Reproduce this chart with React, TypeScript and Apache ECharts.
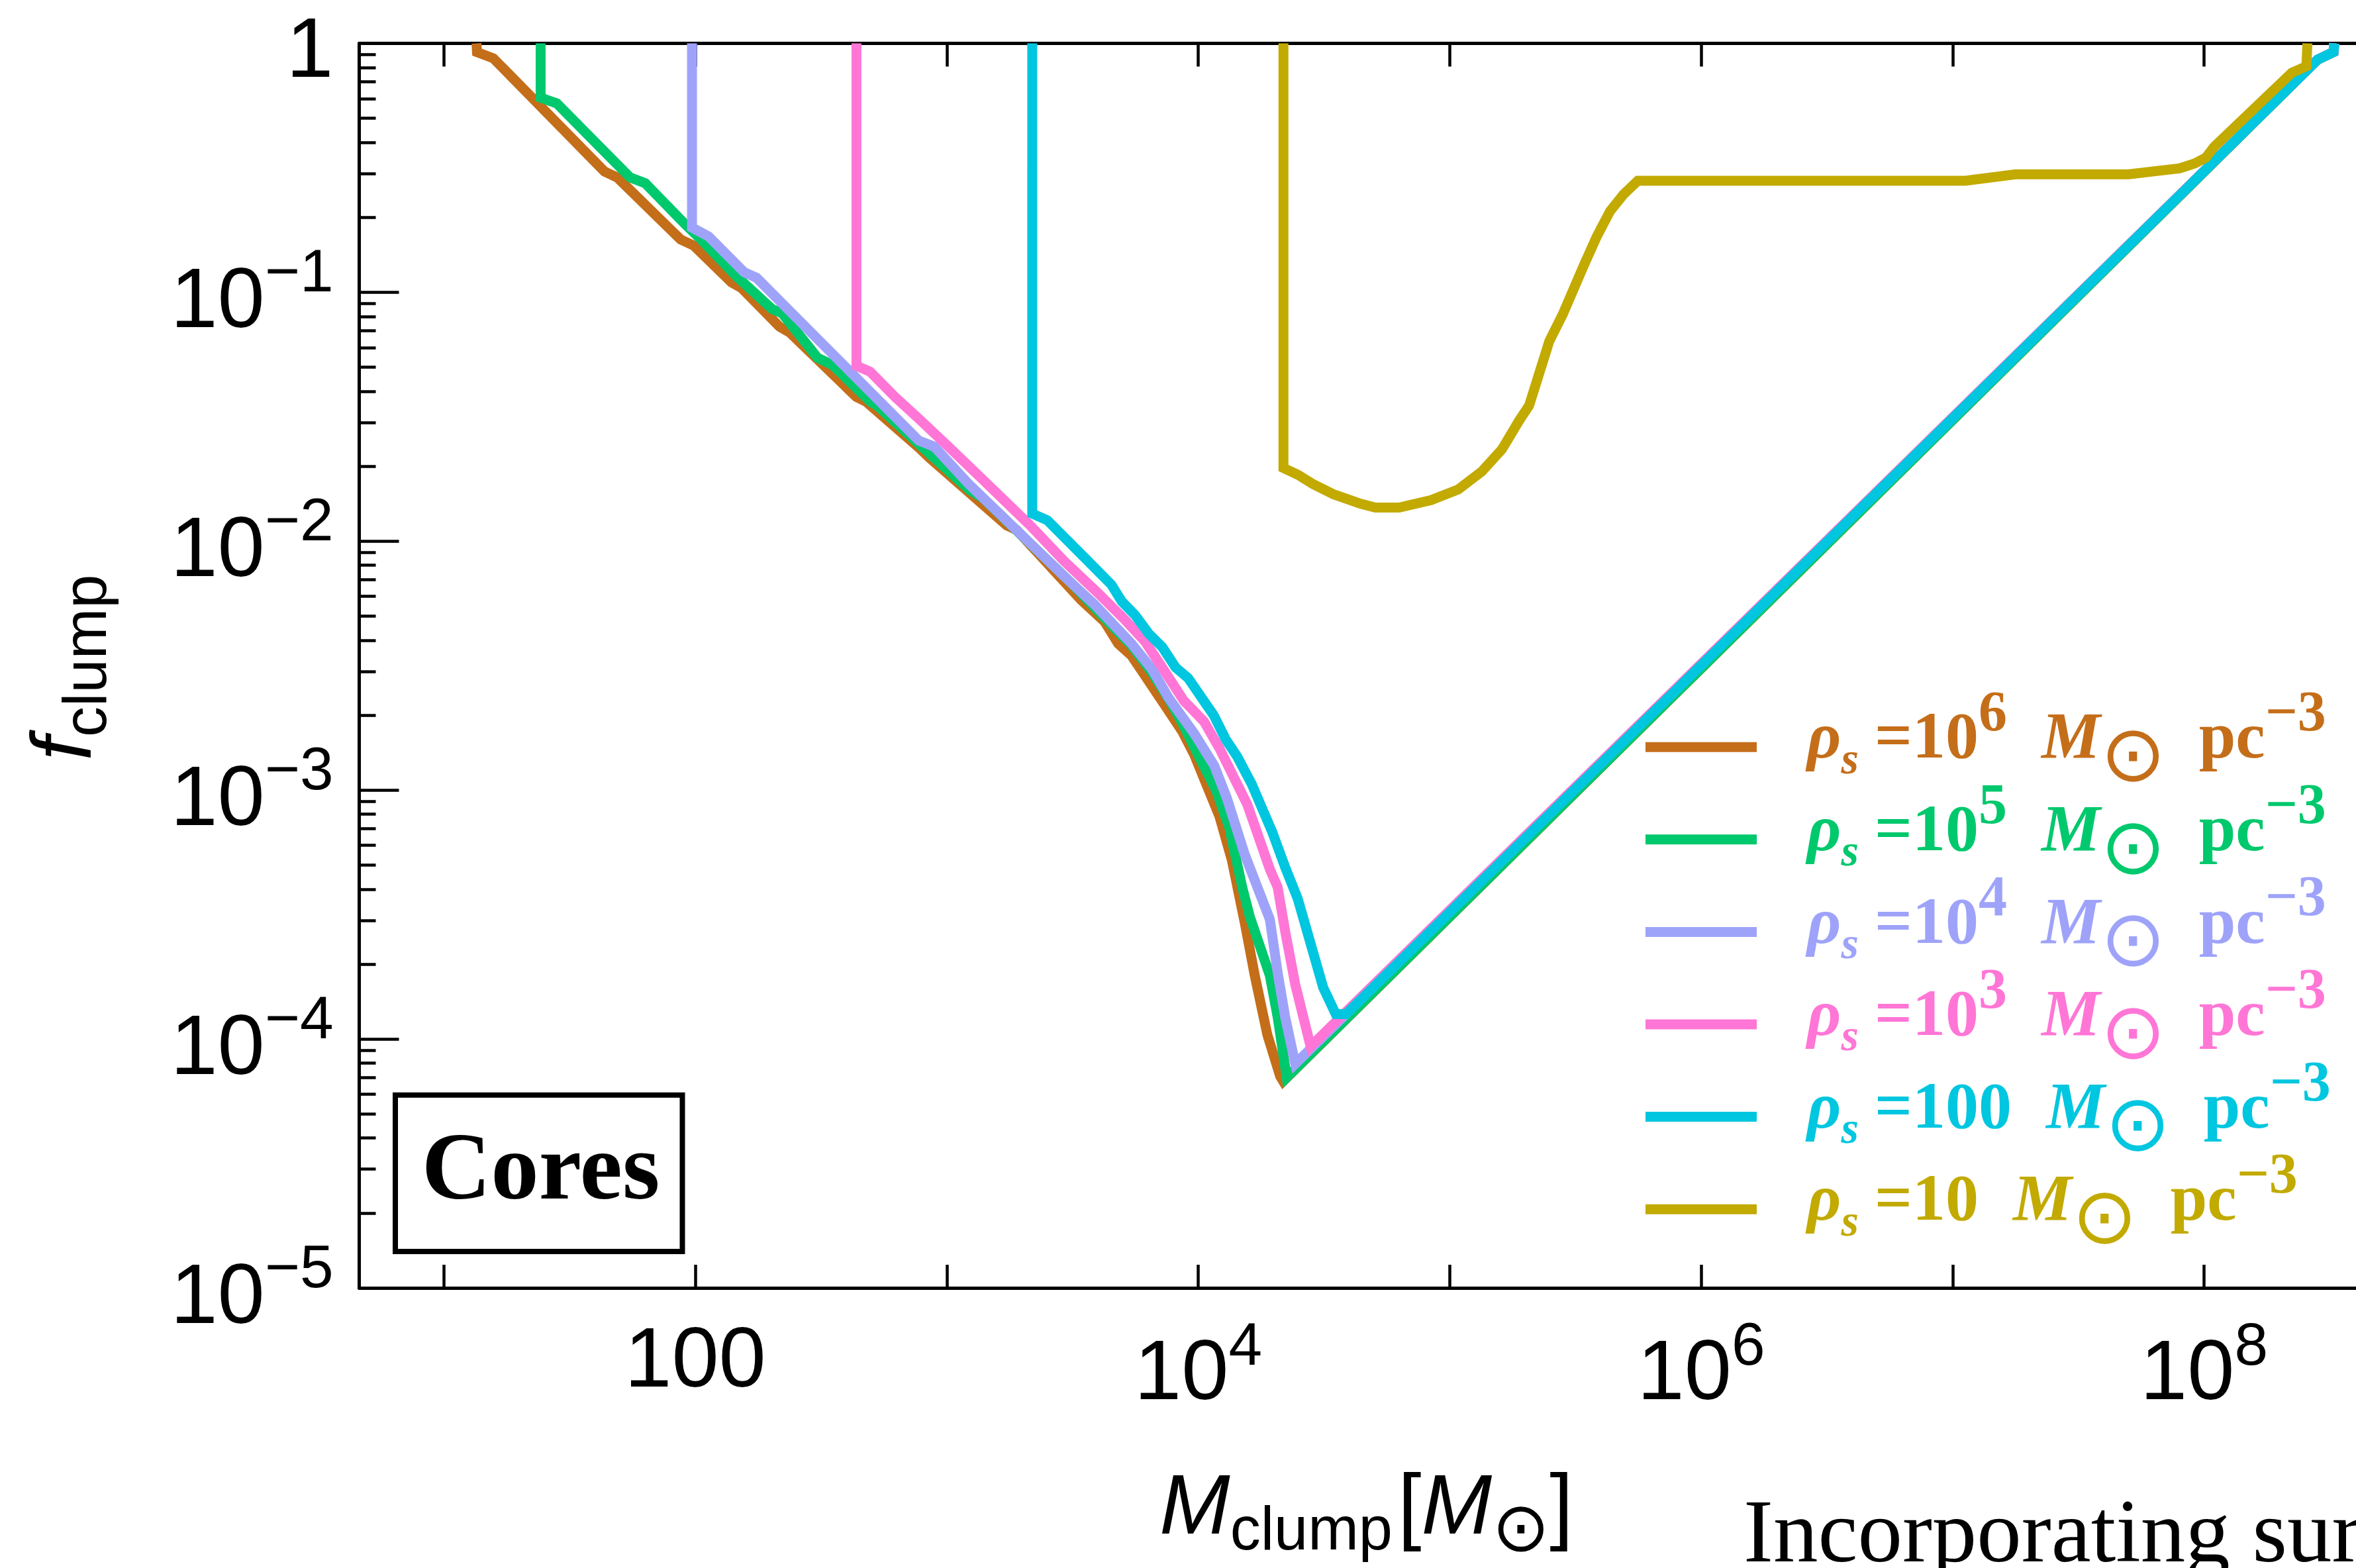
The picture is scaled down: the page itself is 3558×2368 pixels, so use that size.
import React, { useEffect, useRef } from 'react';
import * as echarts from 'echarts';

const WIDTH = 3558;
const HEIGHT = 2368;

// Axis ranges, in log10 units: x = log10(M_clump / M_sun), y = log10(f_clump)
const LOG_M_MIN = 0.6636;
const LOG_M_MAX = 8.6043;
const LOG_F_MIN = -5;
const LOG_F_MAX = 0;

const xTickExponents = [1, 2, 3, 4, 5, 6, 7, 8];
const xLabelExponents = [2, 4, 6, 8];
const yTickExponents = [-5, -4, -3, -2, -1, 0];
const yMinorMultipliers = [2, 3, 4, 5, 6, 7, 8, 9];

// Each curve: [log10 M_clump, log10 f_clump]
const rhoS1e6: [number, number][] = [
  [1.130, 0], [1.132, -0.035], [1.197, -0.060], [1.639, -0.515], [1.690, -0.539],
  [1.942, -0.788], [1.993, -0.812], [2.144, -0.960], [2.184, -0.983], [2.335, -1.138],
  [2.376, -1.162], [2.640, -1.420], [2.680, -1.440], [2.890, -1.625], [2.930, -1.664],
  [3.239, -1.937], [3.278, -1.955], [3.534, -2.236], [3.628, -2.324], [3.682, -2.412],
  [3.735, -2.460], [3.870, -2.663], [3.937, -2.765], [3.983, -2.855], [4.084, -3.104],
  [4.134, -3.282], [4.185, -3.532], [4.225, -3.745], [4.275, -3.983], [4.326, -4.150],
  [4.338, -4.170], [8.452, -0.065], [8.515, -0.035], [8.518, 0],
];

const rhoS1e5: [number, number][] = [
  [1.385, 0], [1.385, -0.218], [1.449, -0.241], [1.741, -0.539], [1.801, -0.562],
  [1.962, -0.729], [2.023, -0.788], [2.164, -0.936], [2.305, -1.067], [2.345, -1.084],
  [2.486, -1.263], [2.547, -1.293], [2.698, -1.441], [2.722, -1.454], [2.890, -1.611],
  [3.091, -1.794], [3.145, -1.828], [3.494, -2.167], [3.642, -2.324], [3.735, -2.419],
  [3.816, -2.527], [3.884, -2.636], [3.937, -2.731], [4.004, -2.867], [4.072, -3.003],
  [4.124, -3.152], [4.175, -3.390], [4.205, -3.508], [4.285, -3.745], [4.316, -3.912],
  [4.346, -4.114], [4.352, -4.155], [8.452, -0.065], [8.515, -0.035], [8.518, 0],
];

const rhoS1e4: [number, number][] = [
  [1.987, 0], [1.987, -0.740], [2.053, -0.776], [2.194, -0.919], [2.244, -0.942],
  [2.889, -1.596], [2.950, -1.620], [3.090, -1.773], [3.279, -1.957], [3.467, -2.141],
  [3.588, -2.255], [3.735, -2.412], [3.816, -2.514], [3.882, -2.629], [3.983, -2.771],
  [4.064, -2.902], [4.114, -3.032], [4.185, -3.258], [4.285, -3.520], [4.316, -3.734],
  [4.346, -3.912], [4.386, -4.100], [8.452, -0.065], [8.515, -0.035], [8.518, 0],
];

const rhoS1e3: [number, number][] = [
  [2.641, 0], [2.641, -1.295], [2.695, -1.319], [2.795, -1.421], [2.890, -1.509],
  [2.997, -1.611], [3.145, -1.754], [3.332, -1.937], [3.467, -2.080], [3.601, -2.208],
  [3.709, -2.316], [3.790, -2.405], [3.852, -2.500], [3.943, -2.641], [4.023, -2.724],
  [4.084, -2.831], [4.195, -3.057], [4.285, -3.318], [4.316, -3.390], [4.346, -3.568],
  [4.386, -3.781], [4.447, -4.030], [8.452, -0.065], [8.515, -0.035], [8.518, 0],
];

const rhoS100: [number, number][] = [
  [3.340, 0], [3.340, -1.889], [3.400, -1.916], [3.548, -2.066], [3.655, -2.175],
  [3.696, -2.242], [3.749, -2.297], [3.803, -2.371], [3.857, -2.425], [3.910, -2.507],
  [3.960, -2.550], [4.062, -2.700], [4.110, -2.797], [4.156, -2.867], [4.213, -2.976],
  [4.295, -3.170], [4.346, -3.310], [4.396, -3.437], [4.497, -3.793], [4.547, -3.900],
  [4.588, -3.900], [8.452, -0.065], [8.515, -0.035], [8.518, 0],
];

const rhoS10: [number, number][] = [
  [4.339, 0], [4.339, -1.706], [4.396, -1.733], [4.456, -1.770], [4.537, -1.811],
  [4.644, -1.849], [4.704, -1.865], [4.799, -1.865], [4.926, -1.835], [5.034, -1.792],
  [5.128, -1.720], [5.208, -1.631], [5.276, -1.516], [5.316, -1.455], [5.396, -1.197],
  [5.450, -1.088], [5.531, -0.898], [5.585, -0.776], [5.638, -0.674], [5.692, -0.606],
  [5.748, -0.552], [7.051, -0.552], [7.250, -0.526], [7.700, -0.526], [7.904, -0.502],
  [7.964, -0.482], [8.007, -0.459], [8.040, -0.416], [8.349, -0.118], [8.407, -0.092],
  [8.411, 0],
];

const curveData = [rhoS1e6, rhoS1e5, rhoS1e4, rhoS1e3, rhoS100, rhoS10];
const curveNames = ['rho1e6', 'rho1e5', 'rho1e4', 'rho1e3', 'rho100', 'rho10'];
const curveColors = ['#c46e1a', '#00c86d', '#9ea3f9', '#ff76d6', '#00c6df', '#c2aa00'];
const densityMantissas = ['10', '10', '10', '10', '100', '10'];
const densityExponents = ['6', '5', '4', '3', '', ''];

const SANS = 'Liberation Sans';
const SERIF = 'Liberation Serif';

function buildOption() {
  const yMinorTicks: number[] = [];
  yTickExponents.slice(0, -1).forEach((d) => {
    yMinorMultipliers.forEach((k) => yMinorTicks.push(d + Math.log10(k)));
  });

  const legendTexts: Record<string, string> = {};
  curveNames.forEach((name, i) => {
    const exp = densityExponents[i];
    legendTexts[name] =
      `{rho|ρ}{sb|s}{eq|=${densityMantissas[i]}}` +
      (exp ? `{sp|${exp}}` : '') +
      `{mi|M}{sun|⊙}{pc|pc}{sp|−3}`;
  });

  const tokenTop = (extra: object, top: number, left = 0) => ({
    verticalAlign: 'top',
    height: 0,
    lineHeight: 1,
    padding: [top, 0, 0, left],
    ...extra,
  });

  return {
    animation: false,
    backgroundColor: '#ffffff',
    grid: { left: 542.5, top: 65.5, right: 0, bottom: HEIGHT - 1945, containLabel: false },
    xAxis: [
      {
        type: 'value',
        min: LOG_M_MIN,
        max: LOG_M_MAX,
        position: 'bottom',
        axisLine: { show: true, onZero: false, lineStyle: { color: '#000', width: 5 } },
        axisTick: {
          show: true, inside: true, length: 35, customValues: xTickExponents,
          lineStyle: { color: '#000', width: 4.5 },
        },
        splitLine: { show: false },
        axisLabel: {
          show: true,
          customValues: xLabelExponents,
          margin: 10,
          color: '#000',
          fontFamily: SANS,
          fontSize: 128,
          formatter: (v: number) => (v === 2 ? '{h|100}' : `{m|10}{s|${v}}`),
          rich: {
            h: { ...tokenTop({ fontSize: 128, fontFamily: SANS }, 94), lineHeight: 150 },
            m: { ...tokenTop({ fontSize: 128, fontFamily: SANS }, 113.5), lineHeight: 150 },
            s: tokenTop({ fontSize: 91, fontFamily: SANS }, 74.5),
          },
        },
      },
      {
        type: 'value',
        min: LOG_M_MIN,
        max: LOG_M_MAX,
        position: 'top',
        axisLine: { show: true, onZero: false, lineStyle: { color: '#000', width: 5 } },
        axisTick: {
          show: true, inside: true, length: 35, customValues: xTickExponents,
          lineStyle: { color: '#000', width: 4.5 },
        },
        splitLine: { show: false },
        axisLabel: { show: false },
      },
    ],
    yAxis: [
      {
        type: 'value',
        min: LOG_F_MIN,
        max: LOG_F_MAX,
        position: 'left',
        axisLine: { show: true, onZero: false, lineStyle: { color: '#000', width: 5 } },
        axisTick: {
          show: true, inside: true, length: 60, customValues: yTickExponents,
          lineStyle: { color: '#000', width: 4.5 },
        },
        splitLine: { show: false },
        axisLabel: {
          show: true,
          customValues: yTickExponents,
          margin: 39,
          color: '#000',
          fontFamily: SANS,
          fontSize: 128,
          formatter: (v: number) => (v === 0 ? '{one|1}' : `{m|10}{s|−${-v}}`),
          rich: {
            one: { ...tokenTop({ fontSize: 128, fontFamily: SANS }, 56), lineHeight: 100 },
            m: { ...tokenTop({ fontSize: 128, fontFamily: SANS }, 58), lineHeight: 100 },
            s: tokenTop({ fontSize: 91, fontFamily: SANS }, 17.5),
          },
        },
      },
      {
        type: 'value',
        min: LOG_F_MIN,
        max: LOG_F_MAX,
        position: 'left',
        axisLine: { show: false, onZero: false },
        axisTick: {
          show: true, inside: true, length: 25, customValues: yMinorTicks,
          lineStyle: { color: '#000', width: 4.5 },
        },
        splitLine: { show: false },
        axisLabel: { show: false },
      },
    ],
    legend: {
      orient: 'vertical',
      left: 2485,
      top: 1031.25,
      padding: 0,
      itemGap: -26.2,
      itemWidth: 168,
      itemHeight: 15,
      icon: 'rect',
      selectedMode: false,
      data: curveNames.map((name, i) => ({ name, textStyle: { color: curveColors[i] } })),
      formatter: (name: string) => legendTexts[name],
      textStyle: {
        fontFamily: SERIF,
        fontWeight: 'bold',
        fontSize: 100,
        rich: {
          rho: { ...tokenTop({ fontSize: 100, fontFamily: SERIF, fontWeight: 'bold', fontStyle: 'italic' }, 52.4, 71), lineHeight: 139.5 },
          sb: tokenTop({ fontSize: 68, fontFamily: SERIF, fontWeight: 'bold', fontStyle: 'italic' }, 86.2),
          eq: tokenTop({ fontSize: 100, fontFamily: SERIF, fontWeight: 'bold' }, 52.4, 24),
          sp: tokenTop({ fontSize: 86, fontFamily: SERIF, fontWeight: 'bold' }, 15.8),
          mi: tokenTop({ fontSize: 100, fontFamily: SERIF, fontWeight: 'bold', fontStyle: 'italic' }, 52.4, 52),
          sun: tokenTop({ fontSize: 118, fontFamily: 'DejaVu Sans', fontWeight: 'normal' }, 79.6),
          pc: tokenTop({ fontSize: 100, fontFamily: SERIF, fontWeight: 'bold' }, 52.4, 50),
        },
      },
    },
    series: curveData.map((data, i) => ({
      type: 'line',
      name: curveNames[i],
      data,
      xAxisIndex: 0,
      yAxisIndex: 0,
      symbol: 'none',
      showSymbol: false,
      color: curveColors[i],
      lineStyle: { width: 15, color: curveColors[i], join: 'miter', cap: 'butt' },
      clip: true,
      z: 2 + i,
    })),
    graphic: [
      {
        type: 'rect',
        shape: { x: 597, y: 1653.7, width: 433.5, height: 236.3 },
        style: { fill: 'none', stroke: '#000', lineWidth: 8 },
        z: 10,
      },
      {
        type: 'text',
        x: 816.5,
        y: 1761,
        style: {
          text: 'Cores',
          fontFamily: SERIF,
          fontWeight: 'bold',
          fontSize: 145,
          fill: '#000',
          align: 'center',
          verticalAlign: 'middle',
        },
        z: 10,
      },
      {
        type: 'text',
        x: 110,
        y: 1008,
        rotation: Math.PI / 2,
        style: {
          text: '{f|f}{c|clump}',
          fill: '#000',
          align: 'center',
          verticalAlign: 'middle',
          rich: {
            f: { fontSize: 128, fontFamily: SANS, fontStyle: 'italic', verticalAlign: 'top', height: 0, lineHeight: 100, padding: [32.6, 0, 0, 0] },
            c: { fontSize: 92, fontFamily: SANS, verticalAlign: 'top', height: 0, lineHeight: 1, padding: [68.1, 0, 0, 0] },
          },
        },
        z: 10,
      },
      {
        type: 'text',
        x: 1751,
        y: 2222,
        style: {
          text: '{m|M}{c|clump}{b|[}{m|M}{o|⊙}{e|]}',
          fill: '#000',
          align: 'left',
          verticalAlign: 'top',
          rich: {
            m: { fontSize: 128, fontFamily: SANS, fontStyle: 'italic', verticalAlign: 'top', height: 0, lineHeight: 130, padding: [49.6, 0, 0, 0] },
            c: { fontSize: 92, fontFamily: SANS, verticalAlign: 'top', height: 0, lineHeight: 1, padding: [86, 0, 0, 0] },
            b: { fontSize: 128, fontFamily: SANS, verticalAlign: 'top', height: 0, lineHeight: 1, padding: [49.6, 0, 0, 8] },
            o: { fontSize: 104, fontFamily: 'DejaVu Sans', verticalAlign: 'top', height: 0, lineHeight: 1, padding: [84, 0, 0, 0] },
            e: { fontSize: 128, fontFamily: SANS, verticalAlign: 'top', height: 0, lineHeight: 1, padding: [49.6, 0, 0, 0] },
          },
        },
        z: 10,
      },
      {
        type: 'text',
        x: 2633,
        y: 2312.4,
        style: {
          text: 'Incorporating sur',
          fontFamily: SERIF,
          fontSize: 135,
          fill: '#000',
          align: 'left',
          verticalAlign: 'middle',
        },
        z: 10,
      },
    ],
  };
}

export default function App() {
  const ref = useRef<HTMLDivElement>(null);

  useEffect(() => {
    if (!ref.current) return;
    const chart = echarts.init(ref.current, null, { renderer: 'svg' });
    chart.setOption(buildOption() as any);
    return () => chart.dispose();
  }, []);

  return (
    <div
      ref={ref}
      style={{ position: 'fixed', left: 0, top: 0, width: WIDTH, height: HEIGHT, background: '#fff' }}
    />
  );
}
